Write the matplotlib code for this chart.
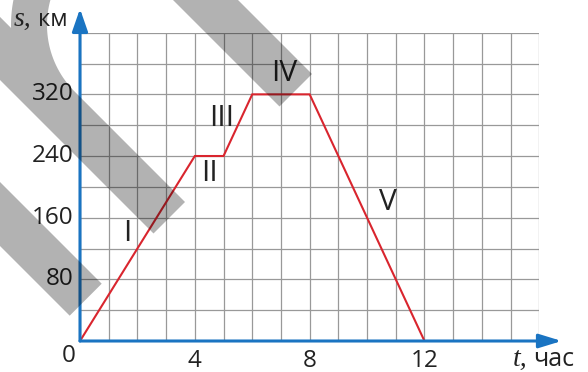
import numpy as np
import matplotlib
matplotlib.use("Agg")
import matplotlib.pyplot as plt
from matplotlib.patches import Polygon

# distance-time data
t_hours = [0, 4, 5, 6, 8, 12]
s_km = [0, 240, 240, 320, 320, 0]
x_tick_vals = [4, 8, 12]
y_tick_vals = [80, 160, 240, 320]
part_names = ["I", "II", "III", "IV", "V"]
part_pos = [(1.65, 140), (4.51, 217), (4.94, 289), (7.11, 347), (10.73, 180)]

BLUE = "#1a74c2"
RED = "#d9252e"
GRID = "#999999"
W, H = 588, 372

plt.rcParams["font.family"] = ["Open Sans", "DejaVu Sans"]

fig = plt.figure(figsize=(W / 100, H / 100), dpi=100)
fig.patch.set_facecolor("white")

# axes box in pixels: origin (80, 341), top-right (539.3, 32.7)
x0, y0, x1, y1 = 80, 341, 539.3, 32.7
ax = fig.add_axes([x0 / W, 1 - y0 / H, (x1 - x0) / W, (y0 - y1) / H])
ax.set_xlim(0, 16)
ax.set_ylim(0, 400)
ax.set_xticks(range(0, 17))
ax.set_yticks(range(0, 401, 40))
ax.grid(True, color=GRID, lw=0.9)
ax.tick_params(length=0, labelbottom=False, labelleft=False)
for sp in ax.spines.values():
    sp.set_visible(False)
ax.set_facecolor("none")

ax.plot(t_hours, s_km, color=RED, lw=1.5, zorder=4, solid_joinstyle="miter")

# axes with arrows
ax.annotate("", xy=(0, 431), xytext=(0, 0), annotation_clip=False,
            arrowprops=dict(arrowstyle="-|>,head_length=0.98,head_width=0.34",
                            mutation_scale=14, color=BLUE, lw=2.2,
                            shrinkA=0, shrinkB=0), zorder=5)
ax.annotate("", xy=(16.78, 0), xytext=(0, 0), annotation_clip=False,
            arrowprops=dict(arrowstyle="-|>,head_length=0.98,head_width=0.3",
                            mutation_scale=14, color=BLUE, lw=2.2,
                            shrinkA=0, shrinkB=0), zorder=5)

for v in y_tick_vals:
    ax.annotate(str(v), xy=(0, v), xytext=(-4.5, 0), textcoords="offset points",
                ha="right", va="center", fontsize=17.5, color="#222222",
                annotation_clip=False)
for v in x_tick_vals:
    ax.annotate(str(v), xy=(v, 0), xytext=(0, -19), textcoords="offset points",
                ha="center", va="baseline", fontsize=17.5, color="#222222",
                annotation_clip=False)
ax.annotate("0", xy=(0, 0), xytext=(-8, -11), textcoords="offset points",
            ha="center", va="center", fontsize=17.5, color="#222222",
            annotation_clip=False)

for name, (px, py) in zip(part_names, part_pos):
    ax.text(px, py, name, ha="center", va="center", fontsize=21.5,
            color="#222222", zorder=6)

# axis titles
fig.text(14 / W, 1 - 25.7 / H, "s,", fontsize=20, style="italic",
         family="Liberation Serif", color="#222222", va="baseline")
fig.text(38 / W, 1 - 25.7 / H, "км", fontsize=17, color="#222222", va="baseline")
fig.text(513 / W, 1 - 366 / H, "t,", fontsize=20, style="italic",
         family="Liberation Serif", color="#222222", va="baseline")
fig.text(533 / W, 1 - 366 / H, "час", fontsize=18, color="#222222", va="baseline")

# grey diagonal watermark stripes (pixel space, y down)
ov = fig.add_axes([0, 0, 1, 1])
ov.set_xlim(0, W)
ov.set_ylim(H, 0)
ov.axis("off")
ov.patch.set_alpha(0)


def band(c_up, c_low, x_end, xs=-80):
    k = (c_low - c_up) / 2
    return [(xs, xs + c_up), (x_end, x_end + c_up),
            (x_end - k, x_end + c_up + k), (xs, xs + c_low)]


stripes = [band(-238, -173, 312), band(182, 246, 101.7)]

cx, cy, r_in, r_out = 141, 25, 94, 130
th_out = np.radians(np.linspace(181.3, 140, 30))
th_in = np.radians(np.linspace(140, 225, 40))
k2 = (80 - 17) / 2
mid = [(-40, -23)]
mid += [(cx + r_out * np.cos(a), cy - r_out * np.sin(a)) for a in th_out]
mid += [(cx + r_in * np.cos(a), cy - r_in * np.sin(a)) for a in th_in]
mid += [(185, 202), (185 - k2, 202 + k2), (-40, 40)]
stripes.append(mid)

for pts in stripes:
    ov.add_patch(Polygon(pts, closed=True, facecolor="black", alpha=0.3,
                         edgecolor="none", zorder=10))

fig.savefig("out.png", dpi=100)
